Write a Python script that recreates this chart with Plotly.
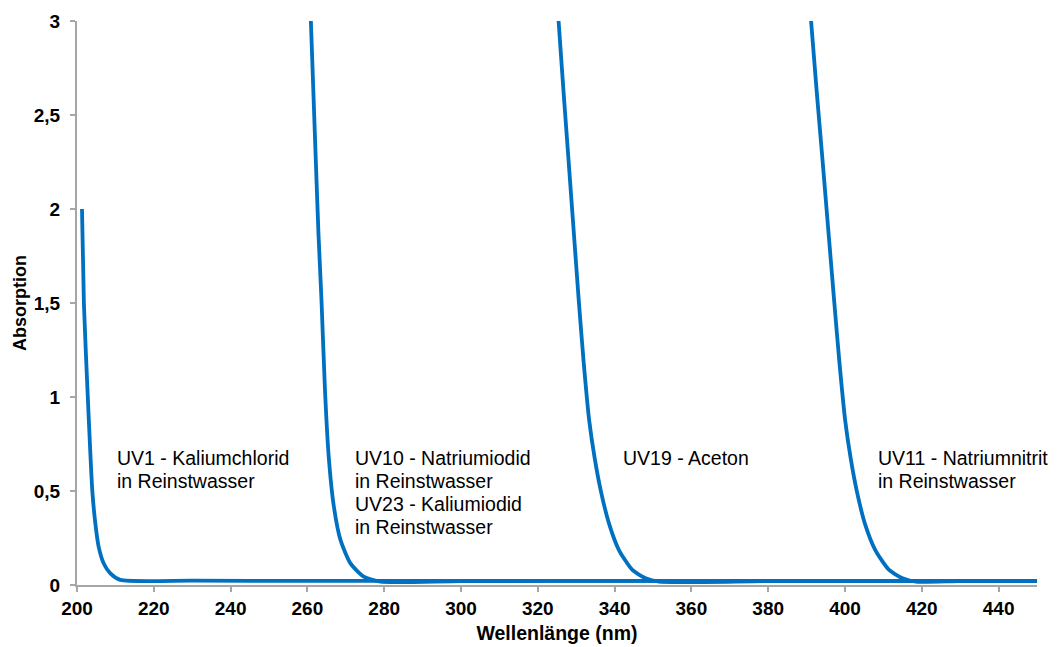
import plotly.graph_objects as go

# Absorption spectra (wavelength in nm, absorbance)
uv1_nm = [201.30, 201.80, 202.81, 203.99, 204.77, 205.63, 206.93, 208.68, 211.28, 230, 260, 300, 350, 400, 450]
uv1_abs = [2.0, 1.496, 1.0, 0.5, 0.328, 0.204, 0.116, 0.062, 0.027, 0.023, 0.022, 0.022, 0.022, 0.022, 0.022]

uv10_nm = [260.87, 262.10, 262.88, 263.66, 264.57, 265.56, 266.87, 268.61, 271.22, 274.68, 279.03, 300, 350, 400, 450]
uv10_abs = [3.02, 2.31, 1.87, 1.52, 1.04, 0.68, 0.42, 0.24, 0.115, 0.044, 0.018, 0.021, 0.022, 0.022, 0.022]

uv19_nm = [325.34, 326.67, 328.00, 329.33, 330.66, 331.94, 333.37, 334.80, 336.37, 338.53, 341.13, 344.63, 348.09, 351.56, 380, 420, 450]
uv19_abs = [3.02, 2.633, 2.261, 1.888, 1.516, 1.186, 0.878, 0.676, 0.505, 0.328, 0.186, 0.080, 0.036, 0.018, 0.021, 0.022, 0.022]

uv11_nm = [391.09, 392.60, 394.14, 395.65, 397.16, 398.54, 400.03, 401.46, 403.02, 405.16, 407.89, 411.49, 414.98, 418.44, 430, 450]
uv11_abs = [3.02, 2.633, 2.261, 1.888, 1.516, 1.186, 0.878, 0.676, 0.505, 0.328, 0.186, 0.080, 0.036, 0.018, 0.021, 0.022]

x_ticks = [200, 220, 240, 260, 280, 300, 320, 340, 360, 380, 400, 420, 440]
y_ticks = [0, 0.5, 1, 1.5, 2, 2.5, 3]
y_tick_text = ["0", "0,5", "1", "1,5", "2", "2,5", "3"]

# Label blocks: anchor wavelength and text lines
label_nm = [209.95, 272.0, 341.55, 407.95]
label_lines = [
    ["UV1 - Kaliumchlorid", "in Reinstwasser"],
    ["UV10 - Natriumiodid", "in Reinstwasser", "UV23 - Kaliumiodid", "in Reinstwasser"],
    ["UV19 - Aceton"],
    ["UV11 - Natriumnitrit", "in Reinstwasser"],
]
label_top = 0.745  # absorbance at the top of each label block

BLUE = "#0070C0"
AXIS = "#A6A6A6"
FONT = "Liberation Sans, Arial, sans-serif"

fig = go.Figure()
for xs, ys in [(uv1_nm, uv1_abs), (uv10_nm, uv10_abs), (uv19_nm, uv19_abs), (uv11_nm, uv11_abs)]:
    fig.add_trace(go.Scatter(
        x=xs, y=ys, mode="lines",
        line=dict(color=BLUE, width=3.8, shape="spline", smoothing=0.6),
        showlegend=False, hoverinfo="skip",
    ))

line_gap = 23
for nm, lines in zip(label_nm, label_lines):
    for i, text in enumerate(lines):
        fig.add_annotation(
            x=nm, y=label_top, xref="x", yref="y",
            text=text, showarrow=False,
            xanchor="left", yanchor="top", align="left",
            yshift=-i * line_gap,
            font=dict(family=FONT, size=19.5, color="#000000"),
        )

fig.update_layout(
    width=1058, height=647,
    margin=dict(l=77, r=21, t=21, b=62),
    paper_bgcolor="white", plot_bgcolor="white",
    font=dict(family=FONT, color="#000000"),
    showlegend=False,
)
fig.update_xaxes(
    range=[200, 450], automargin=False,
    tickvals=x_ticks, ticktext=[str(v) for v in x_ticks],
    showgrid=False, zeroline=False,
    showline=True, linecolor=AXIS, linewidth=2,
    ticks="outside", ticklen=5, tickwidth=2, tickcolor=AXIS,
    tickfont=dict(family=FONT, size=19, color="#000000", weight="bold"),
    title=dict(text="<b>Wellenlänge (nm)</b>", font=dict(family=FONT, size=19.5, color="#000000"), standoff=9),
)
fig.update_yaxes(
    range=[0, 3], automargin=False,
    tickvals=y_ticks, ticktext=y_tick_text,
    showgrid=False, zeroline=False,
    showline=True, linecolor=AXIS, linewidth=2,
    ticks="outside", ticklen=5, tickwidth=2, tickcolor=AXIS,
    ticklabelstandoff=6,
    tickfont=dict(family=FONT, size=19, color="#000000", weight="bold"),
    title=dict(text="<b>Absorption</b>", font=dict(family=FONT, size=18, color="#000000"), standoff=2),
)

fig.write_html("out.html")
